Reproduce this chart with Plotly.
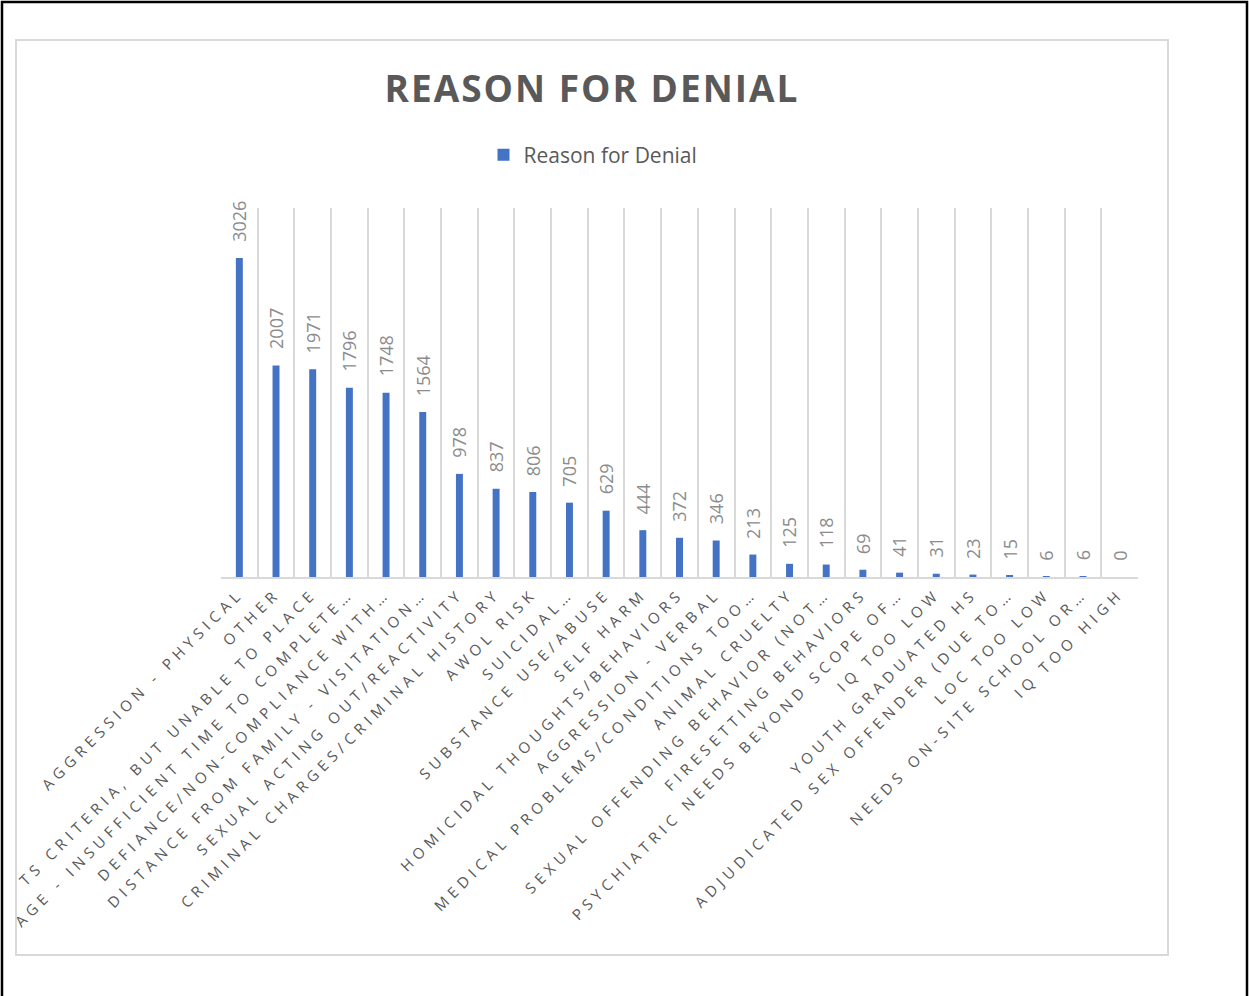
import plotly.graph_objects as go

categories = [
    "AGGRESSION - PHYSICAL",
    "OTHER",
    "TS CRITERIA, BUT UNABLE TO PLACE",
    "AGE - INSUFFICIENT TIME TO COMPLETE…",
    "DEFIANCE/NON-COMPLIANCE WITH…",
    "DISTANCE FROM FAMILY - VISITATION…",
    "SEXUAL ACTING OUT/REACTIVITY",
    "CRIMINAL CHARGES/CRIMINAL HISTORY",
    "AWOL RISK",
    "SUICIDAL…",
    "SUBSTANCE USE/ABUSE",
    "SELF HARM",
    "HOMICIDAL THOUGHTS/BEHAVIORS",
    "AGGRESSION - VERBAL",
    "MEDICAL PROBLEMS/CONDITIONS TOO…",
    "ANIMAL CRUELTY",
    "SEXUAL OFFENDING BEHAVIOR (NOT…",
    "FIRESETTING BEHAVIORS",
    "PSYCHIATRIC NEEDS BEYOND SCOPE OF…",
    "IQ TOO LOW",
    "YOUTH GRADUATED HS",
    "ADJUDICATED SEX OFFENDER (DUE TO…",
    "LOC TOO LOW",
    "NEEDS ON-SITE SCHOOL OR…",
    "IQ TOO HIGH",
]
values = [3026, 2007, 1971, 1796, 1748, 1564, 978, 837, 806, 705, 629, 444,
          372, 346, 213, 125, 118, 69, 41, 31, 23, 15, 6, 6, 0]
series_name = "Reason for Denial"
title_text = "REASON FOR DENIAL"

W, H = 1249, 996
L, R, T, B = 221, 1138, 208, 577  # plot area in pixels
FONT = "Open Sans, Calibri, sans-serif"


def px_x(p):
    return (p - L) / (R - L)


def px_y(p):
    return (B - p) / (B - T)


fig = go.Figure()
fig.add_trace(go.Bar(
    x=categories, y=values, name=series_name,
    marker=dict(color="#4472C4", line=dict(width=0)),
    width=0.19, showlegend=True,
))

for c, v in zip(categories, values):
    fig.add_annotation(
        x=c, y=v, text=str(v), textangle=-90, showarrow=False,
        xanchor="center", yanchor="bottom", yshift=14,
        font=dict(family=FONT, size=18, color="#8c8c8c"),
    )

# outer black frame and chart-area gray frame
fig.add_shape(type="rect", xref="paper", yref="paper",
              x0=px_x(2), x1=px_x(1247), y0=px_y(1000), y1=px_y(2),
              line=dict(color="black", width=2.5), fillcolor="rgba(0,0,0,0)", layer="below")
fig.add_shape(type="rect", xref="paper", yref="paper",
              x0=px_x(16), x1=px_x(1168), y0=px_y(955), y1=px_y(40),
              line=dict(color="#d9d9d9", width=2), fillcolor="rgba(0,0,0,0)", layer="below")

fig.update_layout(
    width=W, height=H,
    margin=dict(l=L, r=W - R, t=T, b=H - B, autoexpand=False),
    paper_bgcolor="white", plot_bgcolor="white",
    title=dict(text=f"<b>{title_text}</b>", xref="paper", x=px_x(592), xanchor="center",
               yref="container", y=1 - 89 / H, yanchor="middle",
               font=dict(family=FONT, size=37, color="#595959")),
    legend=dict(orientation="h", xanchor="center", x=px_x(593), yanchor="middle", y=px_y(155),
                font=dict(family=FONT, size=21, color="#595959"),
                bgcolor="rgba(0,0,0,0)", itemwidth=30),
    xaxis=dict(
        type="category", tickson="boundaries", showgrid=True, gridcolor="#d9d9d9", gridwidth=1.5,
        showline=True, linecolor="#d9d9d9", linewidth=2, ticks="",
        tickangle=-45, automargin=False,
        tickfont=dict(family=FONT, size=15, color="#595959"),
        range=[-0.5, len(categories) - 0.5],
    ),
    yaxis=dict(range=[0, 3500], showgrid=False, showticklabels=False, zeroline=False,
               showline=False, automargin=False),
    showlegend=True,
)

# Excel-style expanded character spacing for axis labels and title
post_js = """
var gd = document.getElementById('{plot_id}');
gd.querySelectorAll('.xtick text').forEach(function(t){ t.style.letterSpacing = '5px'; });
gd.querySelectorAll('.gtitle').forEach(function(t){ t.style.letterSpacing = '2px'; });
"""

fig.write_html("out.html", post_script=post_js)
